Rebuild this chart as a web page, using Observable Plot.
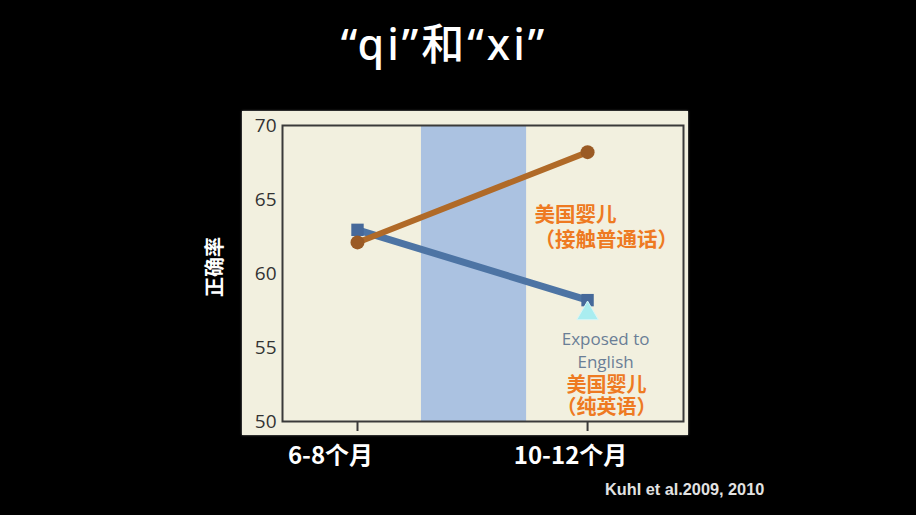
<!DOCTYPE html>
<html><head><meta charset="utf-8">
<script src="https://cdn.jsdelivr.net/npm/d3@7"></script>
<script src="https://cdn.jsdelivr.net/npm/@observablehq/plot@0.6"></script>
<style>
body{margin:0;background:#000;width:916px;height:515px;overflow:hidden;position:relative;font-family:"Noto Sans CJK SC","Noto Sans",sans-serif}
#panel{position:absolute;left:242px;top:111px;width:446px;height:324px;background:#f2f0df;box-shadow:0 0 2px #888}
#chart{position:absolute;left:0;top:0}
#title{position:absolute;left:0;width:888px;top:14px;text-align:center;color:#fff;font-family:"Noto Sans","Noto Sans CJK SC",sans-serif;font-size:43px;line-height:60px;font-weight:500;letter-spacing:3px}
#ylab{position:absolute;left:213px;top:267px;transform:translate(-50%,-50%) rotate(-90deg);color:#fff;font-size:20px;font-weight:bold;white-space:nowrap}
#cap{position:absolute;left:605px;top:480px;color:#e2e2e2;font-family:"Liberation Sans",Arial,sans-serif;font-weight:bold;font-size:16.3px}
</style></head>
<body>
<div id="panel"></div>
<div id="chart"></div>
<div id="title">“qi”和“xi”</div>
<div id="ylab">正确率</div>
<div id="cap">Kuhl et al.2009, 2010</div>
<script>
const ages = ["6-8个月", "10-12个月"];
const mandarinExposed = [62.1, 68.2];
const englishExposed = [62.95, 58.2];
const englishOnly = [57.3];          // at 10-12个月
const exposureBand = [0.278, 0.735];  // exposure period between the two ages
const yTicks = [50, 55, 60, 65, 70];
const mandarinLabel = "美国婴儿\n（接触普通话）";
const exposedLabel = "Exposed to\nEnglish";
const englishLabel = "美国婴儿\n（纯英语）";

const mand = ages.map((a, i) => ({x: i, y: mandarinExposed[i]}));
const eng = ages.map((a, i) => ({x: i, y: englishExposed[i]}));
const only = [{x: 1, y: englishOnly[0]}];

const ageLabelStyle = {tickSize: 0, tickPadding: 25, tickFormat: i => ages[i], fill: "#fff", fontSize: 24, fontWeight: "bold", label: null};

const chart = Plot.plot({
  width: 916, height: 515,
  marginLeft: 282, marginRight: 233, marginTop: 125, marginBottom: 94,
  style: {background: "transparent", color: "#333", fontFamily: "'Noto Sans CJK SC', sans-serif"},
  x: {domain: [-0.326, 1.417], axis: null},
  y: {domain: [50, 70], axis: null},
  marks: [
    Plot.rect([exposureBand], {x1: d => d[0], x2: d => d[1], y1: 50, y2: 70, fill: "#abc2e1"}),
    Plot.frame({stroke: "#3a3a3a", strokeWidth: 2}),
    Plot.axisY(yTicks, {tickSize: 0, tickPadding: 6, fontSize: 19, fill: "#333", fontFamily: "'Open Sans', sans-serif", label: null}),
    Plot.axisX([0, 1], {tickSize: 10, tickFormat: () => "", stroke: "#3a3a3a", strokeWidth: 2, label: null}),
    Plot.axisX([0], {...ageLabelStyle, dx: -27}),
    Plot.axisX([1], {...ageLabelStyle, dx: -17}),
    Plot.line(eng, {x: "x", y: "y", stroke: "#4d74a4", strokeWidth: 7}),
    Plot.dot(eng, {x: "x", y: "y", symbol: "square", r: 7, fill: "#46699a"}),
    Plot.dot(only, {x: "x", y: "y", symbol: "triangle", r: 8, fill: "#a9edf0", stroke: "#d8f6f7", strokeWidth: 1}),
    Plot.line(mand, {x: "x", y: "y", stroke: "#b06a28", strokeWidth: 6}),
    Plot.dot(mand, {x: "x", y: "y", r: 7, fill: "#9a5a24"}),
    Plot.text([mand[1]], {x: "x", y: "y", text: () => mandarinLabel, textAnchor: "start", dx: -53, dy: 74, fontSize: 20.5, fontWeight: "bold", fill: "#ee7a22", lineHeight: 1.22}),
    Plot.text(only, {x: "x", y: "y", text: () => exposedLabel, dx: 18, dy: 36, fontSize: 17, fill: "#6a7e96", lineHeight: 1.32, fontFamily: "'Open Sans', sans-serif"}),
    Plot.text(only, {x: "x", y: "y", text: () => englishLabel, dx: 19, dy: 82, fontSize: 20, fontWeight: "bold", fill: "#ee7a22", lineHeight: 1.1})
  ]
});
document.getElementById("chart").appendChild(chart);
</script>
</body></html>
